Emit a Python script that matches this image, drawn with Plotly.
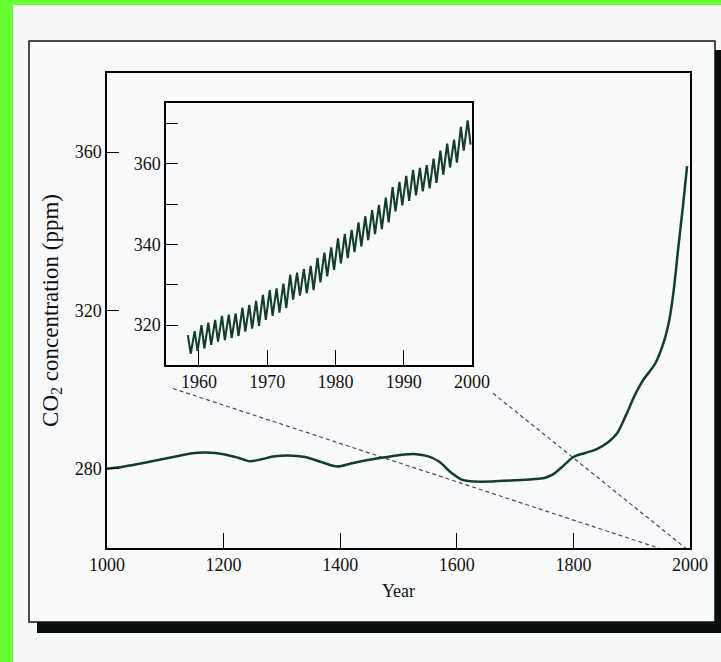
import plotly.graph_objects as go

# ---------------- data ----------------
# Main series: CO2 over the last millennium (ice core + Mauna Loa)
main_years = [1000, 1030, 1060, 1090, 1120, 1150, 1170, 1200, 1225, 1245, 1265, 1285,
              1310, 1340, 1370, 1395, 1420, 1450, 1480, 1510, 1530, 1550, 1570, 1590,
              1610, 1630, 1660, 1700, 1730, 1750, 1765, 1780, 1800, 1820, 1840, 1860,
              1875, 1890, 1905, 1920, 1940, 1955, 1965, 1972, 1980, 1988, 1995]
main_ppm = [280.0, 280.6, 281.4, 282.3, 283.2, 284.0, 284.1, 283.7, 282.8, 281.9, 282.4, 283.1,
            283.4, 283.0, 281.6, 280.6, 281.4, 282.3, 283.0, 283.6, 283.7, 283.2, 281.8, 279.1,
            277.2, 276.8, 276.8, 277.1, 277.4, 277.7, 278.6, 280.4, 283.0, 284.0, 285.0, 286.8,
            289.0, 293.5, 298.5, 302.5, 306.5, 312.0, 318.0, 325.0, 336.0, 346.5, 356.5]

# Inset: Mauna Loa record, yearly seasonal maximum (May) and minimum (October)
keeling_years = list(range(1958, 2000))
keeling_peak = [317.5, 318.5, 320.0, 320.6, 321.3, 322.3, 322.6, 322.9, 324.3, 325.0,
                326.0, 327.5, 328.7, 329.1, 330.3, 332.5, 333.0, 333.9, 334.7, 336.7,
                338.0, 339.3, 341.5, 342.6, 343.6, 345.5, 347.0, 348.5, 349.8, 351.6,
                354.2, 355.5, 357.0, 358.5, 359.0, 359.7, 361.3, 363.3, 365.0, 366.0,
                369.2, 370.8]
keeling_trough = [312.9, 313.6, 314.2, 315.1, 315.9, 316.3, 316.8, 317.3, 318.4, 319.1,
                  319.8, 321.3, 322.3, 323.1, 324.3, 326.3, 327.3, 327.9, 328.7, 330.6,
                  332.1, 333.7, 335.3, 336.6, 338.1, 339.5, 341.1, 342.6, 343.8, 345.5,
                  348.2, 349.7, 350.8, 352.2, 353.2, 353.9, 355.3, 357.3, 359.1, 360.3,
                  363.3, 364.8]
PEAK_MONTH_FRAC = 0.37    # mid-May
TROUGH_MONTH_FRAC = 0.79  # mid-October

# Dashed guide lines joining the inset to the main time axis (year, ppm)
guide_left_year = [1113, 1948]
guide_left_ppm = [300.3, 259.9]
guide_right_year = [1662, 1993]
guide_right_ppm = [299.1, 259.9]

main_xticks = [1000, 1200, 1400, 1600, 1800, 2000]
main_yticks = [280, 320, 360]
inset_xticks = [1960, 1970, 1980, 1990, 2000]
inset_yticks = [320, 340, 360]
inset_yminor = [330, 350, 370]

# ---------------- build ----------------
kx, ky = [], []
for yr, p, t in zip(keeling_years, keeling_peak, keeling_trough):
    kx += [yr + PEAK_MONTH_FRAC, yr + TROUGH_MONTH_FRAC]
    ky += [p, t]

W, H = 721, 662
L, R, T, B = 107, 690, 73, 548  # plot area in pixels


def px(X):
    return (X - L) / (R - L)


def py(Y):
    return (B - Y) / (B - T)


LINE_COL = "#123f2a"
FONT = "Liberation Serif"

fig = go.Figure()
fig.add_trace(go.Scatter(x=guide_left_year, y=guide_left_ppm, mode="lines",
                         line=dict(color="#4a4a55", width=1.2, dash="4px,3px"),
                         hoverinfo="skip", showlegend=False))
fig.add_trace(go.Scatter(x=guide_right_year, y=guide_right_ppm, mode="lines",
                         line=dict(color="#4a4a55", width=1.2, dash="4px,3px"),
                         hoverinfo="skip", showlegend=False))
fig.add_trace(go.Scatter(x=main_years, y=main_ppm, mode="lines",
                         line=dict(color=LINE_COL, width=2.5, shape="spline", smoothing=0.8),
                         showlegend=False))
fig.add_trace(go.Scatter(x=kx, y=ky, mode="lines", xaxis="x2", yaxis="y2",
                         line=dict(color=LINE_COL, width=2.1),
                         showlegend=False))

axis_common = dict(showline=True, linecolor="black", linewidth=1.5, mirror=True,
                   showgrid=False, zeroline=False, ticks="inside", tickcolor="black",
                   tickwidth=1.3, tickfont=dict(family=FONT, size=18, color="#111"))

fig.update_layout(
    width=W, height=H,
    margin=dict(l=L, r=W - R, t=T, b=H - B),
    paper_bgcolor="#66ff33",
    plot_bgcolor="rgba(0,0,0,0)",
    font=dict(family=FONT, color="#111"),
    xaxis=dict(range=[1000, 2000], tickvals=main_xticks, ticklen=15,
               title=dict(text="Year", font=dict(family=FONT, size=18), standoff=10),
               **axis_common),
    yaxis=dict(range=[260, 380], tickvals=main_yticks, ticklen=12,
               title=dict(text="CO<sub>2</sub> concentration (ppm)",
                          font=dict(family=FONT, size=23), standoff=10),
               **axis_common),
    xaxis2=dict(domain=[px(166), px(472)], anchor="y2", range=[1955.17, 2000],
                tickvals=inset_xticks, ticklen=15, **axis_common),
    yaxis2=dict(domain=[py(365), py(103)], anchor="x2", range=[310.1, 375.1],
                tickvals=inset_yticks, ticklen=12,
                minor=dict(tickvals=inset_yminor, ticks="inside", ticklen=12,
                           tickcolor="black", tickwidth=1.3, showgrid=False),
                **axis_common),
    shapes=[
        # page
        dict(type="rect", xref="paper", yref="paper", layer="below",
             x0=px(13), x1=px(W + 2), y0=py(H + 2), y1=py(5),
             fillcolor="#f6f8fa", line=dict(width=0)),
        # card shadow
        dict(type="rect", xref="paper", yref="paper", layer="below",
             x0=px(37), x1=px(W + 2), y0=py(633), y1=py(50),
             fillcolor="#0a0f0c", line=dict(width=0)),
        # card
        dict(type="rect", xref="paper", yref="paper", layer="below",
             x0=px(29), x1=px(715), y0=py(622), y1=py(41),
             fillcolor="#f9fafc", line=dict(color="#111", width=1.5)),
    ],
)

fig.write_html("out.html")
